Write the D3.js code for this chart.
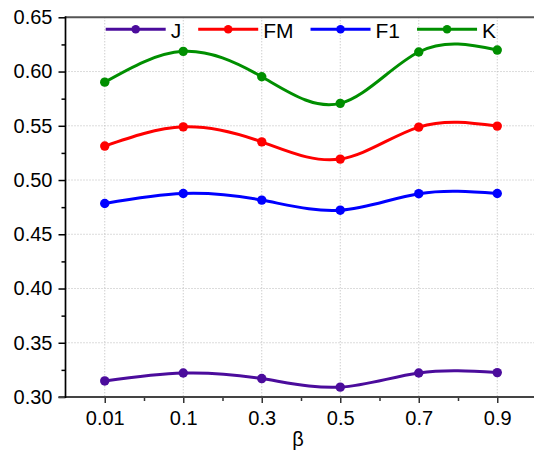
<!DOCTYPE html>
<html>
<head>
<meta charset="utf-8">
<script src="https://cdn.jsdelivr.net/npm/d3@7"></script>
<style>
  html, body { margin: 0; padding: 0; background: #fff; }
  svg { display: block; }
  text { font-family: "Liberation Sans", Arial, sans-serif; fill: #000; }
</style>
</head>
<body>
<svg id="chart" width="534" height="455"></svg>
<script>
// ---- data ----
const categories = ["0.01", "0.1", "0.3", "0.5", "0.7", "0.9"];
const seriesNames = ["J", "FM", "F1", "K"];
const J  = [0.3148, 0.3221, 0.3170, 0.3091, 0.3221, 0.3225];
const FM = [0.5313, 0.5490, 0.5352, 0.5193, 0.5488, 0.5497];
const F1 = [0.4784, 0.4876, 0.4815, 0.4722, 0.4874, 0.4876];
const K  = [0.5902, 0.6186, 0.5952, 0.5707, 0.6180, 0.6198];
const yTickValues = [0.30, 0.35, 0.40, 0.45, 0.50, 0.55, 0.60, 0.65];
const yMinorValues = [0.325, 0.375, 0.425, 0.475, 0.525, 0.575, 0.625];
const xLabel = "β";

// ---- styles ----
const colors = { J: "#4B0C9C", FM: "#FF0000", F1: "#0000FF", K: "#008F00" };
const seriesValues = { J: J, FM: FM, F1: F1, K: K };

const svg = d3.select("#chart");
const pLeft = 65.5, pRight = 536.5, pTop = 17.3, pBottom = 397;

const x = d3.scaleLinear().domain([-0.5, categories.length - 0.5]).range([pLeft, pRight]);
const y = d3.scaleLinear().domain([0.30, 0.65]).range([pBottom, pTop]);

// grid
const grid = svg.append("g");
grid.selectAll("line.v").data(categories.map((c, i) => i)).join("line")
  .attr("x1", d => x(d)).attr("x2", d => x(d))
  .attr("y1", pTop).attr("y2", pBottom)
  .attr("stroke", "#b8b8b8").attr("stroke-width", 1).attr("stroke-dasharray", "1,2");
grid.selectAll("line.h").data(yTickValues.filter(v => v > 0.301 && v < 0.649)).join("line")
  .attr("x1", pLeft).attr("x2", 534)
  .attr("y1", d => y(d)).attr("y2", d => y(d))
  .attr("stroke", "#b8b8b8").attr("stroke-width", 1).attr("stroke-dasharray", "1,2");

// y axis
const yAxis = svg.append("g").attr("transform", `translate(${pLeft},0)`)
  .call(d3.axisLeft(y).tickValues(yTickValues).tickFormat(d3.format(".2f")).tickSize(7).tickPadding(6));
yAxis.select(".domain").remove();
yAxis.selectAll(".tick line").attr("stroke", "#000").attr("stroke-width", 1.5);
yAxis.selectAll(".tick text").style("font-size", "20px").style("font-family", "Liberation Sans, Arial, sans-serif").attr("fill", "#000");
const yMinor = svg.append("g").attr("transform", `translate(${pLeft},0)`)
  .call(d3.axisLeft(y).tickValues(yMinorValues).tickFormat("").tickSize(4));
yMinor.select(".domain").remove();
yMinor.selectAll(".tick line").attr("stroke", "#000").attr("stroke-width", 1.5);

// x axis
const xAxis = svg.append("g").attr("transform", `translate(0,${pBottom})`)
  .call(d3.axisBottom(x).tickValues(categories.map((c, i) => i)).tickFormat(i => categories[i]).tickSize(6).tickPadding(8));
xAxis.select(".domain").remove();
xAxis.selectAll(".tick line").attr("stroke", "#333").attr("stroke-width", 1.5);
xAxis.selectAll(".tick text").style("font-size", "20px").style("font-family", "Liberation Sans, Arial, sans-serif").attr("fill", "#000");
const xMinor = svg.append("g").attr("transform", `translate(0,${pBottom})`)
  .call(d3.axisBottom(x).tickValues(d3.range(0.5, categories.length - 1, 1)).tickFormat("").tickSize(4));
xMinor.select(".domain").remove();
xMinor.selectAll(".tick line").attr("stroke", "#333").attr("stroke-width", 1.5);

// frame lines
svg.append("line").attr("x1", pLeft).attr("x2", 534).attr("y1", pTop).attr("y2", pTop)
  .attr("stroke", "#555").attr("stroke-width", 2);
svg.append("line").attr("x1", pLeft - 7).attr("x2", 534).attr("y1", pBottom).attr("y2", pBottom)
  .attr("stroke", "#444").attr("stroke-width", 2);
svg.append("line").attr("x1", pLeft).attr("x2", pLeft).attr("y1", pTop - 1).attr("y2", pBottom + 1)
  .attr("stroke", "#000").attr("stroke-width", 1.7);

// x label
svg.append("text").attr("x", 298).attr("y", 446).attr("text-anchor", "middle")
  .style("font-size", "20px").text(xLabel);

// series
const line = d3.line().x((d, i) => x(i)).y(d => y(d)).curve(d3.curveNatural);
seriesNames.forEach(name => {
  const vals = seriesValues[name];
  const g = svg.append("g");
  g.append("path").datum(vals).attr("d", line)
    .attr("fill", "none").attr("stroke", colors[name]).attr("stroke-width", 3);
  g.selectAll("circle").data(vals).join("circle")
    .attr("cx", (d, i) => x(i)).attr("cy", d => y(d)).attr("r", 4.7)
    .attr("fill", colors[name]);
});

// legend
const legend = svg.append("g");
let lx = 105.7;
const ly = 29.3;
seriesNames.forEach(name => {
  legend.append("line").attr("x1", lx).attr("x2", lx + 60).attr("y1", ly).attr("y2", ly)
    .attr("stroke", colors[name]).attr("stroke-width", 3);
  legend.append("circle").attr("cx", lx + 30).attr("cy", ly).attr("r", 4.3).attr("fill", colors[name]);
  const t = legend.append("text").attr("x", lx + 65).attr("y", ly + 8.3)
    .style("font-size", "21px").text(name);
  lx = lx + 65 + t.node().getComputedTextLength() + 17;
});
</script>
</body>
</html>
